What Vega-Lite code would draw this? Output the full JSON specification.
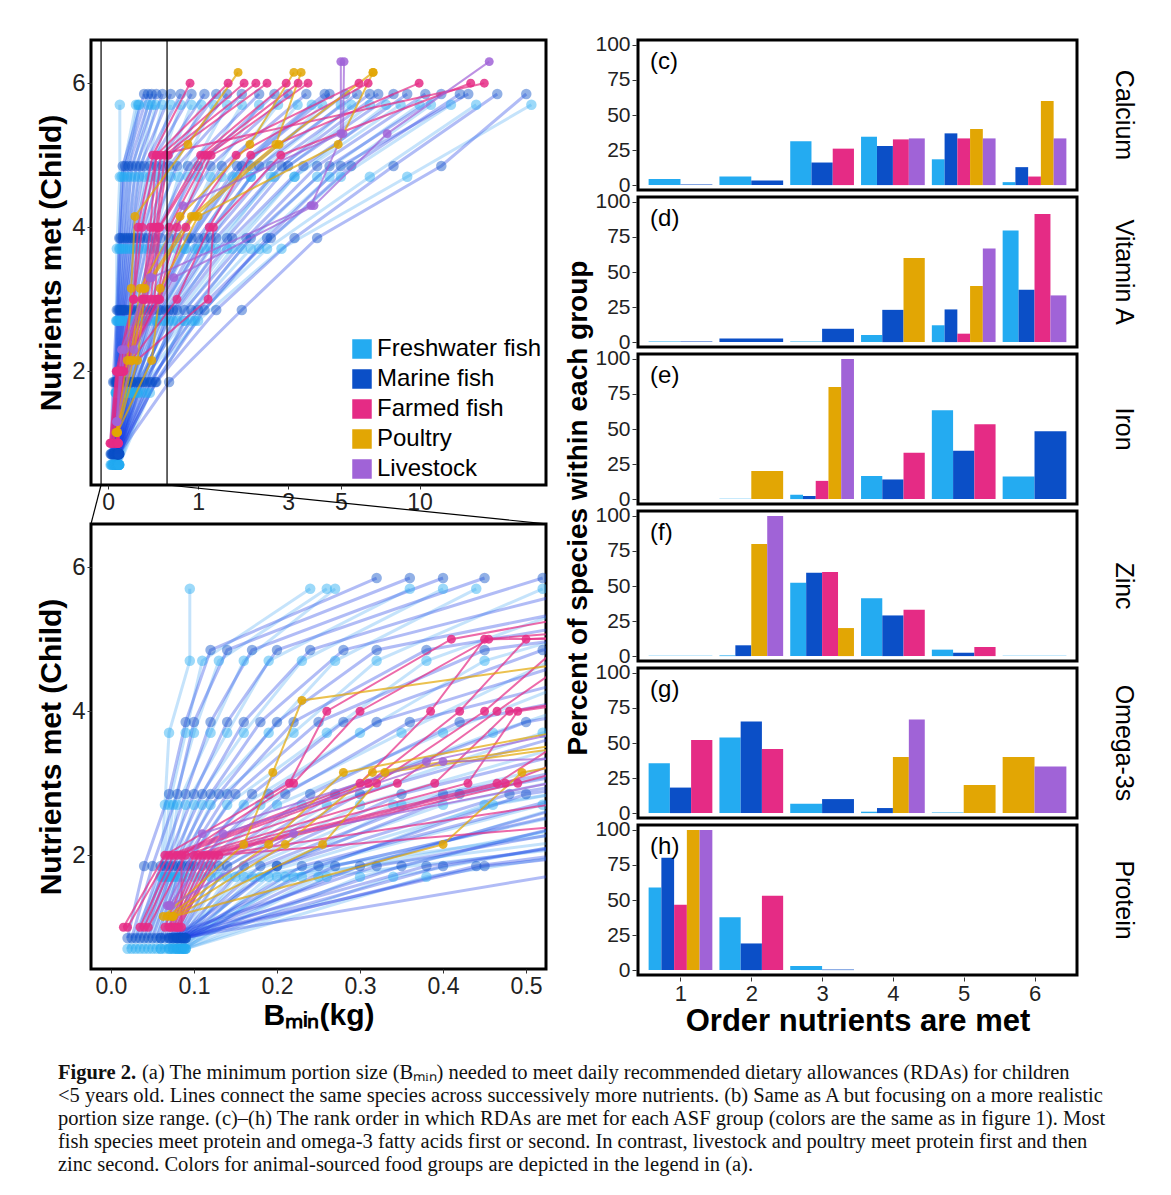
{
"$schema": "https://vega.github.io/schema/vega-lite/v6.json",
"background": "white",
"padding": {"left": 35, "top": 33, "right": 5, "bottom": 5},
"config": {
  "font": "Liberation Sans",
  "view": {"stroke": "black", "strokeWidth": 3},
  "axis": {"domain": false, "grid": false, "ticks": true, "tickColor": "#333", "tickSize": 4, "tickWidth": 1, "labelColor": "#222", "titleColor": "black", "titleFontWeight": "bold", "labelPadding": 2, "labelOverlap": false}
},
"datasets": {
"sp": [
{"s":"W1","g":"W","n":1,"b":0.02},{"s":"W1","g":"W","n":2,"b":0.06},{"s":"W1","g":"W","n":3,"b":0.065},{"s":"W1","g":"W","n":4,"b":0.07},{"s":"W1","g":"W","n":5,"b":0.095},{"s":"W1","g":"W","n":6,"b":0.095},
{"s":"W2","g":"W","n":1,"b":0.025},{"s":"W2","g":"W","n":2,"b":0.062},{"s":"W2","g":"W","n":3,"b":0.07},{"s":"W2","g":"W","n":4,"b":0.09},{"s":"W2","g":"W","n":5,"b":0.11},{"s":"W2","g":"W","n":6,"b":0.24},
{"s":"W3","g":"W","n":1,"b":0.03},{"s":"W3","g":"W","n":2,"b":0.065},{"s":"W3","g":"W","n":3,"b":0.075},{"s":"W3","g":"W","n":4,"b":0.1},{"s":"W3","g":"W","n":5,"b":0.13},{"s":"W3","g":"W","n":6,"b":0.26},
{"s":"W4","g":"W","n":1,"b":0.035},{"s":"W4","g":"W","n":2,"b":0.068},{"s":"W4","g":"W","n":3,"b":0.08},{"s":"W4","g":"W","n":4,"b":0.12},{"s":"W4","g":"W","n":5,"b":0.16},{"s":"W4","g":"W","n":6,"b":0.27},
{"s":"W5","g":"W","n":1,"b":0.04},{"s":"W5","g":"W","n":2,"b":0.07},{"s":"W5","g":"W","n":3,"b":0.09},{"s":"W5","g":"W","n":4,"b":0.14},{"s":"W5","g":"W","n":5,"b":0.19},{"s":"W5","g":"W","n":6,"b":0.36},
{"s":"W6","g":"W","n":1,"b":0.045},{"s":"W6","g":"W","n":2,"b":0.072},{"s":"W6","g":"W","n":3,"b":0.1},{"s":"W6","g":"W","n":4,"b":0.16},{"s":"W6","g":"W","n":5,"b":0.23},{"s":"W6","g":"W","n":6,"b":0.4},
{"s":"W7","g":"W","n":1,"b":0.05},{"s":"W7","g":"W","n":2,"b":0.075},{"s":"W7","g":"W","n":3,"b":0.11},{"s":"W7","g":"W","n":4,"b":0.19},{"s":"W7","g":"W","n":5,"b":0.27},{"s":"W7","g":"W","n":6,"b":0.44},
{"s":"W8","g":"W","n":1,"b":0.055},{"s":"W8","g":"W","n":2,"b":0.078},{"s":"W8","g":"W","n":3,"b":0.12},{"s":"W8","g":"W","n":4,"b":0.22},{"s":"W8","g":"W","n":5,"b":0.32},{"s":"W8","g":"W","n":6,"b":0.52},
{"s":"W9","g":"W","n":1,"b":0.06},{"s":"W9","g":"W","n":2,"b":0.08},{"s":"W9","g":"W","n":3,"b":0.14},{"s":"W9","g":"W","n":4,"b":0.26},{"s":"W9","g":"W","n":5,"b":0.38},{"s":"W9","g":"W","n":6,"b":0.62},
{"s":"W10","g":"W","n":1,"b":0.065},{"s":"W10","g":"W","n":2,"b":0.085},{"s":"W10","g":"W","n":3,"b":0.16},{"s":"W10","g":"W","n":4,"b":0.3},{"s":"W10","g":"W","n":5,"b":0.45},{"s":"W10","g":"W","n":6,"b":0.75},
{"s":"W11","g":"W","n":1,"b":0.07},{"s":"W11","g":"W","n":2,"b":0.09},{"s":"W11","g":"W","n":3,"b":0.18},{"s":"W11","g":"W","n":4,"b":0.35},{"s":"W11","g":"W","n":5,"b":0.53},{"s":"W11","g":"W","n":6,"b":0.9},
{"s":"W12","g":"W","n":1,"b":0.072},{"s":"W12","g":"W","n":2,"b":0.1},{"s":"W12","g":"W","n":3,"b":0.2},{"s":"W12","g":"W","n":4,"b":0.4},{"s":"W12","g":"W","n":5,"b":0.62},{"s":"W12","g":"W","n":6,"b":1.05},
{"s":"W13","g":"W","n":1,"b":0.075},{"s":"W13","g":"W","n":2,"b":0.11},{"s":"W13","g":"W","n":3,"b":0.23},{"s":"W13","g":"W","n":4,"b":0.46},{"s":"W13","g":"W","n":5,"b":0.72},{"s":"W13","g":"W","n":6,"b":1.25},
{"s":"W14","g":"W","n":1,"b":0.078},{"s":"W14","g":"W","n":2,"b":0.12},{"s":"W14","g":"W","n":3,"b":0.26},{"s":"W14","g":"W","n":4,"b":0.52},{"s":"W14","g":"W","n":5,"b":0.85},{"s":"W14","g":"W","n":6,"b":1.5},
{"s":"W15","g":"W","n":1,"b":0.08},{"s":"W15","g":"W","n":2,"b":0.13},{"s":"W15","g":"W","n":3,"b":0.3},{"s":"W15","g":"W","n":4,"b":0.6},{"s":"W15","g":"W","n":5,"b":1.0},{"s":"W15","g":"W","n":6,"b":1.8},
{"s":"W16","g":"W","n":1,"b":0.082},{"s":"W16","g":"W","n":2,"b":0.14},{"s":"W16","g":"W","n":3,"b":0.34},{"s":"W16","g":"W","n":4,"b":0.7},{"s":"W16","g":"W","n":5,"b":1.2},{"s":"W16","g":"W","n":6,"b":2.2},
{"s":"W17","g":"W","n":1,"b":0.084},{"s":"W17","g":"W","n":2,"b":0.15},{"s":"W17","g":"W","n":3,"b":0.4},{"s":"W17","g":"W","n":4,"b":0.82},{"s":"W17","g":"W","n":5,"b":1.4},{"s":"W17","g":"W","n":6,"b":2.7},
{"s":"W18","g":"W","n":1,"b":0.086},{"s":"W18","g":"W","n":2,"b":0.17},{"s":"W18","g":"W","n":3,"b":0.46},{"s":"W18","g":"W","n":4,"b":0.95},{"s":"W18","g":"W","n":5,"b":1.7},{"s":"W18","g":"W","n":6,"b":3.3},
{"s":"W19","g":"W","n":1,"b":0.088},{"s":"W19","g":"W","n":2,"b":0.19},{"s":"W19","g":"W","n":3,"b":0.52},{"s":"W19","g":"W","n":4,"b":1.1},{"s":"W19","g":"W","n":5,"b":2.0},{"s":"W19","g":"W","n":6,"b":4.2},
{"s":"W20","g":"W","n":1,"b":0.09},{"s":"W20","g":"W","n":2,"b":0.21},{"s":"W20","g":"W","n":3,"b":0.6},{"s":"W20","g":"W","n":4,"b":1.3},{"s":"W20","g":"W","n":5,"b":2.5},{"s":"W20","g":"W","n":6,"b":5.5},
{"s":"W21","g":"W","n":1,"b":0.06},{"s":"W21","g":"W","n":2,"b":0.23},{"s":"W21","g":"W","n":3,"b":0.7},{"s":"W21","g":"W","n":4,"b":1.6},{"s":"W21","g":"W","n":5,"b":3.2},{"s":"W21","g":"W","n":6,"b":7.5},
{"s":"W22","g":"W","n":1,"b":0.07},{"s":"W22","g":"W","n":2,"b":0.16},{"s":"W22","g":"W","n":3,"b":0.8},{"s":"W22","g":"W","n":4,"b":2.0},{"s":"W22","g":"W","n":5,"b":4.5},{"s":"W22","g":"W","n":6,"b":11},
{"s":"W23","g":"W","n":1,"b":0.08},{"s":"W23","g":"W","n":2,"b":0.2},{"s":"W23","g":"W","n":3,"b":0.9},{"s":"W23","g":"W","n":4,"b":2.4},{"s":"W23","g":"W","n":5,"b":6.5},{"s":"W23","g":"W","n":6,"b":16},
{"s":"W24","g":"W","n":1,"b":0.085},{"s":"W24","g":"W","n":2,"b":0.25},{"s":"W24","g":"W","n":3,"b":1.0},{"s":"W24","g":"W","n":4,"b":2.8},{"s":"W24","g":"W","n":5,"b":9},{"s":"W24","g":"W","n":6,"b":25},
{"s":"W25","g":"W","n":1,"b":0.075},{"s":"W25","g":"W","n":2,"b":0.18},{"s":"W25","g":"W","n":3,"b":0.35},{"s":"W25","g":"W","n":4,"b":0.8},{"s":"W25","g":"W","n":5,"b":1.6},{"s":"W25","g":"W","n":6,"b":3.8},
{"s":"W26","g":"W","n":1,"b":0.08},{"s":"W26","g":"W","n":2,"b":0.22},{"s":"W26","g":"W","n":3,"b":0.45},{"s":"W26","g":"W","n":4,"b":1.0},{"s":"W26","g":"W","n":5,"b":2.0},{"s":"W26","g":"W","n":6,"b":5},
{"s":"W27","g":"W","n":1,"b":0.085},{"s":"W27","g":"W","n":2,"b":0.26},{"s":"W27","g":"W","n":3,"b":0.55},{"s":"W27","g":"W","n":4,"b":1.2},{"s":"W27","g":"W","n":5,"b":2.6},{"s":"W27","g":"W","n":6,"b":6.5},
{"s":"W28","g":"W","n":1,"b":0.088},{"s":"W28","g":"W","n":2,"b":0.3},{"s":"W28","g":"W","n":3,"b":0.65},{"s":"W28","g":"W","n":4,"b":1.5},{"s":"W28","g":"W","n":5,"b":3.2},{"s":"W28","g":"W","n":6,"b":8.5},
{"s":"W29","g":"W","n":1,"b":0.09},{"s":"W29","g":"W","n":2,"b":0.34},{"s":"W29","g":"W","n":3,"b":0.8},{"s":"W29","g":"W","n":4,"b":1.8},{"s":"W29","g":"W","n":5,"b":4.0},{"s":"W29","g":"W","n":6,"b":10},
{"s":"W30","g":"W","n":1,"b":0.09},{"s":"W30","g":"W","n":2,"b":0.38},{"s":"W30","g":"W","n":3,"b":0.95},{"s":"W30","g":"W","n":4,"b":2.2},{"s":"W30","g":"W","n":5,"b":5.0},{"s":"W30","g":"W","n":6,"b":13},
{"s":"M1","g":"M","n":1,"b":0.02},{"s":"M1","g":"M","n":2,"b":0.04},{"s":"M1","g":"M","n":3,"b":0.07},{"s":"M1","g":"M","n":4,"b":0.09},{"s":"M1","g":"M","n":5,"b":0.12},{"s":"M1","g":"M","n":6,"b":0.32},
{"s":"M2","g":"M","n":1,"b":0.025},{"s":"M2","g":"M","n":2,"b":0.05},{"s":"M2","g":"M","n":3,"b":0.08},{"s":"M2","g":"M","n":4,"b":0.1},{"s":"M2","g":"M","n":5,"b":0.14},{"s":"M2","g":"M","n":6,"b":0.36},
{"s":"M3","g":"M","n":1,"b":0.03},{"s":"M3","g":"M","n":2,"b":0.06},{"s":"M3","g":"M","n":3,"b":0.09},{"s":"M3","g":"M","n":4,"b":0.12},{"s":"M3","g":"M","n":5,"b":0.17},{"s":"M3","g":"M","n":6,"b":0.4},
{"s":"M4","g":"M","n":1,"b":0.035},{"s":"M4","g":"M","n":2,"b":0.065},{"s":"M4","g":"M","n":3,"b":0.1},{"s":"M4","g":"M","n":4,"b":0.14},{"s":"M4","g":"M","n":5,"b":0.2},{"s":"M4","g":"M","n":6,"b":0.45},
{"s":"M5","g":"M","n":1,"b":0.04},{"s":"M5","g":"M","n":2,"b":0.07},{"s":"M5","g":"M","n":3,"b":0.11},{"s":"M5","g":"M","n":4,"b":0.16},{"s":"M5","g":"M","n":5,"b":0.24},{"s":"M5","g":"M","n":6,"b":0.52},
{"s":"M6","g":"M","n":1,"b":0.045},{"s":"M6","g":"M","n":2,"b":0.075},{"s":"M6","g":"M","n":3,"b":0.12},{"s":"M6","g":"M","n":4,"b":0.18},{"s":"M6","g":"M","n":5,"b":0.28},{"s":"M6","g":"M","n":6,"b":0.62},
{"s":"M7","g":"M","n":1,"b":0.05},{"s":"M7","g":"M","n":2,"b":0.08},{"s":"M7","g":"M","n":3,"b":0.13},{"s":"M7","g":"M","n":4,"b":0.2},{"s":"M7","g":"M","n":5,"b":0.32},{"s":"M7","g":"M","n":6,"b":0.75},
{"s":"M8","g":"M","n":1,"b":0.055},{"s":"M8","g":"M","n":2,"b":0.085},{"s":"M8","g":"M","n":3,"b":0.14},{"s":"M8","g":"M","n":4,"b":0.22},{"s":"M8","g":"M","n":5,"b":0.38},{"s":"M8","g":"M","n":6,"b":0.9},
{"s":"M9","g":"M","n":1,"b":0.06},{"s":"M9","g":"M","n":2,"b":0.09},{"s":"M9","g":"M","n":3,"b":0.15},{"s":"M9","g":"M","n":4,"b":0.25},{"s":"M9","g":"M","n":5,"b":0.45},{"s":"M9","g":"M","n":6,"b":1.1},
{"s":"M10","g":"M","n":1,"b":0.065},{"s":"M10","g":"M","n":2,"b":0.095},{"s":"M10","g":"M","n":3,"b":0.17},{"s":"M10","g":"M","n":4,"b":0.28},{"s":"M10","g":"M","n":5,"b":0.52},{"s":"M10","g":"M","n":6,"b":1.3},
{"s":"M11","g":"M","n":1,"b":0.07},{"s":"M11","g":"M","n":2,"b":0.1},{"s":"M11","g":"M","n":3,"b":0.19},{"s":"M11","g":"M","n":4,"b":0.32},{"s":"M11","g":"M","n":5,"b":0.6},{"s":"M11","g":"M","n":6,"b":1.5},
{"s":"M12","g":"M","n":1,"b":0.072},{"s":"M12","g":"M","n":2,"b":0.11},{"s":"M12","g":"M","n":3,"b":0.21},{"s":"M12","g":"M","n":4,"b":0.36},{"s":"M12","g":"M","n":5,"b":0.7},{"s":"M12","g":"M","n":6,"b":1.8},
{"s":"M13","g":"M","n":1,"b":0.075},{"s":"M13","g":"M","n":2,"b":0.12},{"s":"M13","g":"M","n":3,"b":0.24},{"s":"M13","g":"M","n":4,"b":0.42},{"s":"M13","g":"M","n":5,"b":0.85},{"s":"M13","g":"M","n":6,"b":2.2},
{"s":"M14","g":"M","n":1,"b":0.078},{"s":"M14","g":"M","n":2,"b":0.13},{"s":"M14","g":"M","n":3,"b":0.27},{"s":"M14","g":"M","n":4,"b":0.5},{"s":"M14","g":"M","n":5,"b":1.0},{"s":"M14","g":"M","n":6,"b":2.6},
{"s":"M15","g":"M","n":1,"b":0.08},{"s":"M15","g":"M","n":2,"b":0.14},{"s":"M15","g":"M","n":3,"b":0.3},{"s":"M15","g":"M","n":4,"b":0.6},{"s":"M15","g":"M","n":5,"b":1.2},{"s":"M15","g":"M","n":6,"b":3.0},
{"s":"M16","g":"M","n":1,"b":0.082},{"s":"M16","g":"M","n":2,"b":0.16},{"s":"M16","g":"M","n":3,"b":0.35},{"s":"M16","g":"M","n":4,"b":0.7},{"s":"M16","g":"M","n":5,"b":1.4},{"s":"M16","g":"M","n":6,"b":3.6},
{"s":"M17","g":"M","n":1,"b":0.084},{"s":"M17","g":"M","n":2,"b":0.18},{"s":"M17","g":"M","n":3,"b":0.4},{"s":"M17","g":"M","n":4,"b":0.85},{"s":"M17","g":"M","n":5,"b":1.7},{"s":"M17","g":"M","n":6,"b":4.3},
{"s":"M18","g":"M","n":1,"b":0.086},{"s":"M18","g":"M","n":2,"b":0.2},{"s":"M18","g":"M","n":3,"b":0.48},{"s":"M18","g":"M","n":4,"b":1.0},{"s":"M18","g":"M","n":5,"b":2.0},{"s":"M18","g":"M","n":6,"b":5.2},
{"s":"M19","g":"M","n":1,"b":0.088},{"s":"M19","g":"M","n":2,"b":0.23},{"s":"M19","g":"M","n":3,"b":0.56},{"s":"M19","g":"M","n":4,"b":1.2},{"s":"M19","g":"M","n":5,"b":2.5},{"s":"M19","g":"M","n":6,"b":6.5},
{"s":"M20","g":"M","n":1,"b":0.09},{"s":"M20","g":"M","n":2,"b":0.27},{"s":"M20","g":"M","n":3,"b":0.65},{"s":"M20","g":"M","n":4,"b":1.5},{"s":"M20","g":"M","n":5,"b":3.0},{"s":"M20","g":"M","n":6,"b":8},
{"s":"M21","g":"M","n":1,"b":0.06},{"s":"M21","g":"M","n":2,"b":0.32},{"s":"M21","g":"M","n":3,"b":0.8},{"s":"M21","g":"M","n":4,"b":1.9},{"s":"M21","g":"M","n":5,"b":4.0},{"s":"M21","g":"M","n":6,"b":10.5},
{"s":"M22","g":"M","n":1,"b":0.07},{"s":"M22","g":"M","n":2,"b":0.38},{"s":"M22","g":"M","n":3,"b":1.0},{"s":"M22","g":"M","n":4,"b":2.5},{"s":"M22","g":"M","n":5,"b":5.5},{"s":"M22","g":"M","n":6,"b":14},
{"s":"M23","g":"M","n":1,"b":0.08},{"s":"M23","g":"M","n":2,"b":0.45},{"s":"M23","g":"M","n":3,"b":1.3},{"s":"M23","g":"M","n":4,"b":3.2},{"s":"M23","g":"M","n":5,"b":8},{"s":"M23","g":"M","n":6,"b":19},
{"s":"M24","g":"M","n":1,"b":0.085},{"s":"M24","g":"M","n":2,"b":0.6},{"s":"M24","g":"M","n":3,"b":1.8},{"s":"M24","g":"M","n":4,"b":4.0},{"s":"M24","g":"M","n":5,"b":12},{"s":"M24","g":"M","n":6,"b":24},
{"s":"M25","g":"M","n":1,"b":0.075},{"s":"M25","g":"M","n":2,"b":0.2},{"s":"M25","g":"M","n":3,"b":0.42},{"s":"M25","g":"M","n":4,"b":0.9},{"s":"M25","g":"M","n":5,"b":1.8},{"s":"M25","g":"M","n":6,"b":4.5},
{"s":"M26","g":"M","n":1,"b":0.08},{"s":"M26","g":"M","n":2,"b":0.25},{"s":"M26","g":"M","n":3,"b":0.5},{"s":"M26","g":"M","n":4,"b":1.1},{"s":"M26","g":"M","n":5,"b":2.2},{"s":"M26","g":"M","n":6,"b":5.8},
{"s":"M27","g":"M","n":1,"b":0.085},{"s":"M27","g":"M","n":2,"b":0.3},{"s":"M27","g":"M","n":3,"b":0.6},{"s":"M27","g":"M","n":4,"b":1.3},{"s":"M27","g":"M","n":5,"b":2.8},{"s":"M27","g":"M","n":6,"b":7},
{"s":"M28","g":"M","n":1,"b":0.088},{"s":"M28","g":"M","n":2,"b":0.35},{"s":"M28","g":"M","n":3,"b":0.7},{"s":"M28","g":"M","n":4,"b":1.6},{"s":"M28","g":"M","n":5,"b":3.5},{"s":"M28","g":"M","n":6,"b":9},
{"s":"M29","g":"M","n":1,"b":0.09},{"s":"M29","g":"M","n":2,"b":0.4},{"s":"M29","g":"M","n":3,"b":0.9},{"s":"M29","g":"M","n":4,"b":2.0},{"s":"M29","g":"M","n":5,"b":4.5},{"s":"M29","g":"M","n":6,"b":12},
{"s":"M30","g":"M","n":1,"b":0.09},{"s":"M30","g":"M","n":2,"b":0.44},{"s":"M30","g":"M","n":3,"b":1.1},{"s":"M30","g":"M","n":4,"b":2.4},{"s":"M30","g":"M","n":5,"b":5.0},{"s":"M30","g":"M","n":6,"b":15},
{"s":"F1","g":"F","n":1,"b":0.015},{"s":"F1","g":"F","n":2,"b":0.065},{"s":"F1","g":"F","n":3,"b":0.215},{"s":"F1","g":"F","n":4,"b":0.26},{"s":"F1","g":"F","n":5,"b":0.41},{"s":"F1","g":"F","n":6,"b":0.88},
{"s":"F2","g":"F","n":1,"b":0.02},{"s":"F2","g":"F","n":2,"b":0.07},{"s":"F2","g":"F","n":3,"b":0.3},{"s":"F2","g":"F","n":4,"b":0.385},{"s":"F2","g":"F","n":5,"b":0.45},{"s":"F2","g":"F","n":6,"b":1.52},
{"s":"F3","g":"F","n":1,"b":0.035},{"s":"F3","g":"F","n":2,"b":0.075},{"s":"F3","g":"F","n":3,"b":0.31},{"s":"F3","g":"F","n":4,"b":0.42},{"s":"F3","g":"F","n":5,"b":0.5},{"s":"F3","g":"F","n":6,"b":1.85},
{"s":"F4","g":"F","n":1,"b":0.04},{"s":"F4","g":"F","n":2,"b":0.08},{"s":"F4","g":"F","n":3,"b":0.32},{"s":"F4","g":"F","n":4,"b":0.45},{"s":"F4","g":"F","n":5,"b":0.55},{"s":"F4","g":"F","n":6,"b":2.12},
{"s":"F5","g":"F","n":1,"b":0.045},{"s":"F5","g":"F","n":2,"b":0.09},{"s":"F5","g":"F","n":3,"b":0.345},{"s":"F5","g":"F","n":4,"b":0.465},{"s":"F5","g":"F","n":5,"b":0.59},{"s":"F5","g":"F","n":6,"b":2.4},
{"s":"F6","g":"F","n":1,"b":0.065},{"s":"F6","g":"F","n":2,"b":0.1},{"s":"F6","g":"F","n":3,"b":0.39},{"s":"F6","g":"F","n":4,"b":0.48},{"s":"F6","g":"F","n":5,"b":1.04},{"s":"F6","g":"F","n":6,"b":2.94},
{"s":"F7","g":"F","n":1,"b":0.07},{"s":"F7","g":"F","n":2,"b":0.105},{"s":"F7","g":"F","n":3,"b":0.43},{"s":"F7","g":"F","n":4,"b":0.49},{"s":"F7","g":"F","n":5,"b":1.1},{"s":"F7","g":"F","n":6,"b":3.32},
{"s":"F8","g":"F","n":1,"b":0.072},{"s":"F8","g":"F","n":2,"b":0.11},{"s":"F8","g":"F","n":3,"b":0.465},{"s":"F8","g":"F","n":4,"b":0.6},{"s":"F8","g":"F","n":5,"b":1.15},{"s":"F8","g":"F","n":6,"b":3.66},
{"s":"F9","g":"F","n":1,"b":0.075},{"s":"F9","g":"F","n":2,"b":0.115},{"s":"F9","g":"F","n":3,"b":0.475},{"s":"F9","g":"F","n":4,"b":0.7},{"s":"F9","g":"F","n":5,"b":1.21},{"s":"F9","g":"F","n":6,"b":5.9},
{"s":"F10","g":"F","n":1,"b":0.078},{"s":"F10","g":"F","n":2,"b":0.12},{"s":"F10","g":"F","n":3,"b":0.49},{"s":"F10","g":"F","n":4,"b":0.82},{"s":"F10","g":"F","n":5,"b":1.68},{"s":"F10","g":"F","n":6,"b":6.4},
{"s":"F11","g":"F","n":1,"b":0.08},{"s":"F11","g":"F","n":2,"b":0.125},{"s":"F11","g":"F","n":3,"b":0.7},{"s":"F11","g":"F","n":4,"b":1.18},{"s":"F11","g":"F","n":5,"b":2.0},{"s":"F11","g":"F","n":6,"b":9.96},
{"s":"F12","g":"F","n":1,"b":0.082},{"s":"F12","g":"F","n":2,"b":0.13},{"s":"F12","g":"F","n":3,"b":1.16},{"s":"F12","g":"F","n":4,"b":1.25},{"s":"F12","g":"F","n":5,"b":2.78},{"s":"F12","g":"F","n":6,"b":15.3},
{"s":"F13","g":"F","n":1,"b":0.085},{"s":"F13","g":"F","n":2,"b":0.085},{"s":"F13","g":"F","n":3,"b":0.22},{"s":"F13","g":"F","n":4,"b":0.3},{"s":"F13","g":"F","n":5,"b":0.455},{"s":"F13","g":"F","n":6,"b":17.1},
{"s":"P1","g":"P","n":1,"b":0.063},{"s":"P1","g":"P","n":2,"b":0.16},{"s":"P1","g":"P","n":3,"b":0.195},{"s":"P1","g":"P","n":4,"b":0.23},{"s":"P1","g":"P","n":5,"b":0.85},{"s":"P1","g":"P","n":6,"b":1.72},
{"s":"P2","g":"P","n":1,"b":0.068},{"s":"P2","g":"P","n":2,"b":0.19},{"s":"P2","g":"P","n":3,"b":0.28},{"s":"P2","g":"P","n":4,"b":0.74},{"s":"P2","g":"P","n":5,"b":1.98},{"s":"P2","g":"P","n":6,"b":3.18},
{"s":"P3","g":"P","n":1,"b":0.072},{"s":"P3","g":"P","n":2,"b":0.21},{"s":"P3","g":"P","n":3,"b":0.315},{"s":"P3","g":"P","n":4,"b":0.9},{"s":"P3","g":"P","n":5,"b":2.64},{"s":"P3","g":"P","n":6,"b":3.42},
{"s":"P4","g":"P","n":1,"b":0.075},{"s":"P4","g":"P","n":2,"b":0.255},{"s":"P4","g":"P","n":3,"b":0.33},{"s":"P4","g":"P","n":4,"b":0.95},{"s":"P4","g":"P","n":5,"b":2.73},{"s":"P4","g":"P","n":6,"b":6.69},
{"s":"P5","g":"P","n":1,"b":0.075},{"s":"P5","g":"P","n":2,"b":0.4},{"s":"P5","g":"P","n":3,"b":0.495},{"s":"P5","g":"P","n":4,"b":1.0},{"s":"P5","g":"P","n":5,"b":4.88},{"s":"P5","g":"P","n":6,"b":6.69},
{"s":"L1","g":"L","n":1,"b":0.068},{"s":"L1","g":"L","n":2,"b":0.11},{"s":"L1","g":"L","n":3,"b":0.38},{"s":"L1","g":"L","n":4,"b":0.78},{"s":"L1","g":"L","n":5,"b":5.0},{"s":"L1","g":"L","n":6,"b":5.0},
{"s":"L2","g":"L","n":1,"b":0.07},{"s":"L2","g":"L","n":2,"b":0.135},{"s":"L2","g":"L","n":3,"b":0.4},{"s":"L2","g":"L","n":4,"b":3.77},{"s":"L2","g":"L","n":5,"b":5.1},{"s":"L2","g":"L","n":6,"b":5.15},
{"s":"L3","g":"L","n":1,"b":0.072},{"s":"L3","g":"L","n":2,"b":0.22},{"s":"L3","g":"L","n":3,"b":0.66},{"s":"L3","g":"L","n":4,"b":3.88},{"s":"L3","g":"L","n":5,"b":7.57},{"s":"L3","g":"L","n":6,"b":17.8}
],
"bars": [
{"nut":"Calcium","o":1,"g":"W","p":4.3},{"nut":"Calcium","o":1,"g":"M","p":0.5},
{"nut":"Calcium","o":2,"g":"W","p":6.1},{"nut":"Calcium","o":2,"g":"M","p":3.3},
{"nut":"Calcium","o":3,"g":"W","p":31.2},{"nut":"Calcium","o":3,"g":"M","p":16.1},{"nut":"Calcium","o":3,"g":"F","p":26},
{"nut":"Calcium","o":4,"g":"W","p":34.5},{"nut":"Calcium","o":4,"g":"M","p":27.9},{"nut":"Calcium","o":4,"g":"F","p":32.6},{"nut":"Calcium","o":4,"g":"L","p":33.3},
{"nut":"Calcium","o":5,"g":"W","p":18.4},{"nut":"Calcium","o":5,"g":"M","p":36.9},{"nut":"Calcium","o":5,"g":"F","p":33.3},{"nut":"Calcium","o":5,"g":"P","p":40},{"nut":"Calcium","o":5,"g":"L","p":33.3},
{"nut":"Calcium","o":6,"g":"W","p":2.1},{"nut":"Calcium","o":6,"g":"M","p":12.8},{"nut":"Calcium","o":6,"g":"F","p":6.1},{"nut":"Calcium","o":6,"g":"P","p":60},{"nut":"Calcium","o":6,"g":"L","p":33.3},
{"nut":"Vitamin A","o":1,"g":"W","p":0.5},{"nut":"Vitamin A","o":1,"g":"M","p":0.5},
{"nut":"Vitamin A","o":2,"g":"M","p":2.6},
{"nut":"Vitamin A","o":3,"g":"W","p":0.5},{"nut":"Vitamin A","o":3,"g":"M","p":9.5},
{"nut":"Vitamin A","o":4,"g":"W","p":5},{"nut":"Vitamin A","o":4,"g":"M","p":23},{"nut":"Vitamin A","o":4,"g":"P","p":60},
{"nut":"Vitamin A","o":5,"g":"W","p":12},{"nut":"Vitamin A","o":5,"g":"M","p":23.3},{"nut":"Vitamin A","o":5,"g":"F","p":6},{"nut":"Vitamin A","o":5,"g":"P","p":40},{"nut":"Vitamin A","o":5,"g":"L","p":66.7},
{"nut":"Vitamin A","o":6,"g":"W","p":79.6},{"nut":"Vitamin A","o":6,"g":"M","p":37.3},{"nut":"Vitamin A","o":6,"g":"F","p":91.4},{"nut":"Vitamin A","o":6,"g":"L","p":33.3},
{"nut":"Iron","o":2,"g":"W","p":0.3},{"nut":"Iron","o":2,"g":"P","p":20},
{"nut":"Iron","o":3,"g":"W","p":3.1},{"nut":"Iron","o":3,"g":"M","p":2.2},{"nut":"Iron","o":3,"g":"F","p":13},{"nut":"Iron","o":3,"g":"P","p":80},{"nut":"Iron","o":3,"g":"L","p":100},
{"nut":"Iron","o":4,"g":"W","p":16.5},{"nut":"Iron","o":4,"g":"M","p":14},{"nut":"Iron","o":4,"g":"F","p":33},
{"nut":"Iron","o":5,"g":"W","p":63.4},{"nut":"Iron","o":5,"g":"M","p":34.4},{"nut":"Iron","o":5,"g":"F","p":53.3},
{"nut":"Iron","o":6,"g":"W","p":16.2},{"nut":"Iron","o":6,"g":"M","p":48.4},
{"nut":"Zinc","o":1,"g":"W","p":0.3},
{"nut":"Zinc","o":2,"g":"W","p":0.5},{"nut":"Zinc","o":2,"g":"M","p":7.7},{"nut":"Zinc","o":2,"g":"P","p":80},{"nut":"Zinc","o":2,"g":"L","p":100},
{"nut":"Zinc","o":3,"g":"W","p":52.4},{"nut":"Zinc","o":3,"g":"M","p":59.4},{"nut":"Zinc","o":3,"g":"F","p":60},{"nut":"Zinc","o":3,"g":"P","p":20},
{"nut":"Zinc","o":4,"g":"W","p":41.3},{"nut":"Zinc","o":4,"g":"M","p":29},{"nut":"Zinc","o":4,"g":"F","p":33},
{"nut":"Zinc","o":5,"g":"W","p":4.6},{"nut":"Zinc","o":5,"g":"M","p":2.4},{"nut":"Zinc","o":5,"g":"F","p":6.5},
{"nut":"Zinc","o":6,"g":"W","p":0.3},
{"nut":"Omega-3s","o":1,"g":"W","p":35.6},{"nut":"Omega-3s","o":1,"g":"M","p":18.2},{"nut":"Omega-3s","o":1,"g":"F","p":52.2},
{"nut":"Omega-3s","o":2,"g":"W","p":54},{"nut":"Omega-3s","o":2,"g":"M","p":65.3},{"nut":"Omega-3s","o":2,"g":"F","p":45.7},
{"nut":"Omega-3s","o":3,"g":"W","p":6.7},{"nut":"Omega-3s","o":3,"g":"M","p":10},
{"nut":"Omega-3s","o":4,"g":"W","p":1},{"nut":"Omega-3s","o":4,"g":"M","p":3.6},{"nut":"Omega-3s","o":4,"g":"P","p":40},{"nut":"Omega-3s","o":4,"g":"L","p":66.7},
{"nut":"Omega-3s","o":5,"g":"W","p":0.5},{"nut":"Omega-3s","o":5,"g":"P","p":20},
{"nut":"Omega-3s","o":6,"g":"P","p":40},{"nut":"Omega-3s","o":6,"g":"L","p":33.3},
{"nut":"Protein","o":1,"g":"W","p":58.9},{"nut":"Protein","o":1,"g":"M","p":80.2},{"nut":"Protein","o":1,"g":"F","p":46.6},{"nut":"Protein","o":1,"g":"P","p":100},{"nut":"Protein","o":1,"g":"L","p":100},
{"nut":"Protein","o":2,"g":"W","p":37.7},{"nut":"Protein","o":2,"g":"M","p":19},{"nut":"Protein","o":2,"g":"F","p":53.1},
{"nut":"Protein","o":3,"g":"W","p":2.9},{"nut":"Protein","o":3,"g":"M","p":0.4},
{"nut":"Calcium","lab":"(c)"},{"nut":"Vitamin A","lab":"(d)"},{"nut":"Iron","lab":"(e)"},{"nut":"Zinc","lab":"(f)"},{"nut":"Omega-3s","lab":"(g)"},{"nut":"Protein","lab":"(h)"}
],
"cap": [
{"line":1,"seg":"head","t":"Figure 2."},
{"line":1,"seg":"first","t":"(a) The minimum portion size (Bₘᵢₙ) needed to meet daily recommended dietary allowances (RDAs) for children"},
{"line":2,"seg":"body","t":"<5 years old. Lines connect the same species across successively more nutrients. (b) Same as A but focusing on a more realistic"},
{"line":3,"seg":"body","t":"portion size range. (c)–(h) The rank order in which RDAs are met for each ASF group (colors are the same as in figure 1). Most"},
{"line":4,"seg":"body","t":"fish species meet protein and omega-3 fatty acids first or second. In contrast, livestock and poultry meet protein first and then"},
{"line":5,"seg":"body","t":"zinc second. Colors for animal-sourced food groups are depicted in the legend in (a)."}
]
},
"vconcat": [
 {
  "hconcat": [
   {
    "vconcat": [
     {
      "width": 455, "height": 445,
      "data": {"name": "sp"},
      "transform": [{"calculate": "datum.n + ({'W':-0.3,'M':-0.15,'F':0,'P':0.15,'L':0.3})[datum.g]", "as": "yy"}],
      "encoding": {
        "x": {"field": "b", "type": "quantitative", "scale": {"type": "symlog", "constant": 1, "domain": [-0.14, 28.1], "nice": false, "zero": false}, "axis": {"values": [0, 1, 3, 5, 10], "title": null, "labelFontSize": 23}},
        "y": {"field": "yy", "type": "quantitative", "scale": {"domain": [0.42, 6.6], "nice": false, "zero": false}, "axis": {"values": [2, 4, 6], "title": "Nutrients met (Child)", "labelFontSize": 24, "titleFontSize": 30, "titlePadding": 5}},
        "color": {"field": "g", "type": "nominal", "scale": {"domain": ["W", "M", "F", "P", "L"], "range": ["#24ABF1", "#0B4FC7", "#E52B85", "#E2A604", "#A063D7"]},
           "legend": {"title": null, "orient": "bottom-right", "offset": 4, "symbolType": "square", "symbolSize": 380, "symbolStrokeWidth": 0, "symbolOpacity": 1, "labelFontSize": 24, "labelColor": "black", "rowPadding": 6, "labelOffset": 3, "labelLimit": 300,
             "labelExpr": "({'W':'Freshwater fish','M':'Marine fish','F':'Farmed fish','P':'Poultry','L':'Livestock'})[datum.label]"}}
      },
      "layer": [
        {"transform": [{"filter": "datum.g=='W'"}], "mark": {"type": "line", "strokeWidth": 3, "opacity": 0.3}, "encoding": {"color": {"value": "#3FA2F2"}, "detail": {"field": "s"}, "order": {"field": "n"}}},
        {"transform": [{"filter": "datum.g=='M'"}], "mark": {"type": "line", "strokeWidth": 3, "opacity": 0.35}, "encoding": {"color": {"value": "#1F3FE6"}, "detail": {"field": "s"}, "order": {"field": "n"}}},
        {"transform": [{"filter": "datum.g=='W'||datum.g=='M'"}], "mark": {"type": "circle", "size": 110, "opacity": 0.45}},
        {"transform": [{"filter": "datum.g!='W'&&datum.g!='M'"}], "mark": {"type": "line", "strokeWidth": 2, "opacity": 0.7}, "encoding": {"detail": {"field": "s"}, "order": {"field": "n"}}},
        {"transform": [{"filter": "datum.g!='W'&&datum.g!='M'"}], "mark": {"type": "circle", "size": 80, "opacity": 0.85}},
        {"data": {"values": [{"x": -0.055, "x2": -0.055, "y": 0.42, "y2": 6.6}, {"x": 0.575, "x2": 0.575, "y": 0.42, "y2": 6.6}, {"x": -0.055, "x2": -0.14, "y": 0.42, "y2": -0.12}, {"x": 0.575, "x2": 28.1, "y": 0.42, "y2": -0.12}]},
         "mark": {"type": "rule", "clip": false, "strokeWidth": 1.2},
         "encoding": {"x": {"field": "x", "type": "quantitative", "scale": {"type": "symlog", "constant": 1, "domain": [-0.14, 28.1], "nice": false, "zero": false}, "axis": {"values": [0, 1, 3, 5, 10], "title": null, "labelFontSize": 23}}, "x2": {"field": "x2"}, "y": {"field": "y", "type": "quantitative", "scale": {"domain": [0.42, 6.6], "nice": false, "zero": false}, "axis": {"values": [2, 4, 6], "title": "Nutrients met (Child)", "labelFontSize": 24, "titleFontSize": 30, "titlePadding": 5}}, "y2": {"field": "y2"}, "color": {"value": "black"}}},
        {"data": {"values": [{"t": "(a)"}]}, "mark": {"type": "text", "align": "left", "baseline": "middle", "fontSize": 24},
         "encoding": {"text": {"field": "t"}, "x": {"datum": -0.039}, "y": {"datum": 6.39}, "color": {"value": "black"}}}
      ]
     },
     {
      "width": 455, "height": 445,
      "data": {"name": "sp"},
      "transform": [{"calculate": "datum.n + ({'W':-0.3,'M':-0.15,'F':0,'P':0.15,'L':0.3})[datum.g]", "as": "yy"}],
      "encoding": {
        "x": {"field": "b", "type": "quantitative", "scale": {"domain": [-0.024, 0.524], "nice": false, "zero": false}, "axis": {"values": [0, 0.1, 0.2, 0.3, 0.4, 0.5], "format": ".1f", "title": "Bₘᵢₙ(kg)", "labelFontSize": 23, "titleFontSize": 30, "titlePadding": 2}},
        "y": {"field": "yy", "type": "quantitative", "scale": {"domain": [0.42, 6.6], "nice": false, "zero": false}, "axis": {"values": [2, 4, 6], "title": "Nutrients met (Child)", "labelFontSize": 24, "titleFontSize": 30, "titlePadding": 5}},
        "color": {"field": "g", "type": "nominal", "scale": {"domain": ["W", "M", "F", "P", "L"], "range": ["#24ABF1", "#0B4FC7", "#E52B85", "#E2A604", "#A063D7"]}, "legend": null}
      },
      "layer": [
        {"transform": [{"filter": "datum.g=='W'"}], "mark": {"type": "line", "strokeWidth": 3, "opacity": 0.3, "clip": true}, "encoding": {"color": {"value": "#3FA2F2"}, "detail": {"field": "s"}, "order": {"field": "n"}}},
        {"transform": [{"filter": "datum.g=='M'"}], "mark": {"type": "line", "strokeWidth": 3, "opacity": 0.35, "clip": true}, "encoding": {"color": {"value": "#1F3FE6"}, "detail": {"field": "s"}, "order": {"field": "n"}}},
        {"transform": [{"filter": "datum.g=='W'||datum.g=='M'"}], "mark": {"type": "circle", "size": 110, "opacity": 0.45, "clip": true}},
        {"transform": [{"filter": "datum.g!='W'&&datum.g!='M'"}], "mark": {"type": "line", "strokeWidth": 2, "opacity": 0.7, "clip": true}, "encoding": {"detail": {"field": "s"}, "order": {"field": "n"}}},
        {"transform": [{"filter": "datum.g!='W'&&datum.g!='M'"}], "mark": {"type": "circle", "size": 80, "opacity": 0.85, "clip": true}},
        {"data": {"values": [{"t": "(b)"}]}, "mark": {"type": "text", "align": "left", "baseline": "middle", "fontSize": 24},
         "encoding": {"text": {"field": "t"}, "x": {"datum": -0.007}, "y": {"datum": 6.32}, "color": {"value": "black"}}}
      ]
     }
    ],
    "spacing": 39,
    "bounds": "flush",
    "resolve": {"scale": {"color": "independent", "x": "independent", "y": "independent"}, "legend": {"color": "independent"}}
   },
   {
    "data": {"name": "bars"},
    "facet": {"row": {"field": "nut", "type": "nominal", "sort": ["Calcium", "Vitamin A", "Iron", "Zinc", "Omega-3s", "Protein"],
       "header": {"title": "Percent of species within each group", "titleOrient": "left", "titleAngle": -90, "titleFontSize": 28, "titleFontWeight": "bold", "titleColor": "black", "titlePadding": -37,
                  "labelOrient": "right", "labelAngle": 90, "labelFontSize": 25, "labelPadding": 32, "labelColor": "black"}}},
    "spacing": 3,
    "spec": {
      "width": 439, "height": 150,
      "layer": [
        {"transform": [
           {"filter": "isValid(datum.p)"},
           {"calculate": "indexof(['W','M','F','P','L'], datum.g)", "as": "gi"},
           {"window": [{"op": "row_number", "as": "k"}, {"op": "count", "as": "c"}], "groupby": ["nut", "o"], "sort": [{"field": "gi"}], "frame": [null, null]},
           {"calculate": "datum.o - 0.45 + 0.9 * (datum.k - 1) / datum.c", "as": "x0"},
           {"calculate": "datum.x0 + 0.9 / datum.c", "as": "x1"}
         ],
         "mark": {"type": "rect"},
         "encoding": {
           "x": {"field": "x0", "type": "quantitative", "scale": {"domain": [0.4, 6.6], "nice": false, "zero": false}, "axis": {"values": [1, 2, 3, 4, 5, 6], "format": "d", "title": "Order nutrients are met", "labelFontSize": 22, "titleFontSize": 31, "titlePadding": 2}},
           "x2": {"field": "x1"},
           "y": {"field": "p", "type": "quantitative", "scale": {"domain": [-3.5, 103.5], "nice": false, "zero": false}, "axis": {"values": [0, 25, 50, 75, 100], "title": null, "labelFontSize": 21, "labelOverlap": false}},
           "y2": {"datum": 0},
           "color": {"field": "g", "type": "nominal", "scale": {"domain": ["W", "M", "F", "P", "L"], "range": ["#24ABF1", "#0B4FC7", "#E52B85", "#E2A604", "#A063D7"]}, "legend": null}
         }},
        {"transform": [{"filter": "isValid(datum.lab)"}],
         "mark": {"type": "text", "align": "left", "baseline": "middle", "fontSize": 24},
         "encoding": {"text": {"field": "lab"}, "x": {"datum": 0.57, "type": "quantitative", "axis": {"values": [1, 2, 3, 4, 5, 6], "format": "d", "title": "Order nutrients are met", "labelFontSize": 22, "titleFontSize": 31, "titlePadding": 2}},
           "y": {"datum": 88, "type": "quantitative", "axis": {"values": [0, 25, 50, 75, 100], "title": null, "labelFontSize": 21, "labelOverlap": false}}, "color": {"value": "black"}}}
      ]
    }
   }
  ],
  "spacing": 15,
  "resolve": {"scale": {"color": "independent", "x": "independent", "y": "independent"}, "legend": {"color": "independent"}}
 },
 {
  "width": 1110, "height": 116,
  "view": {"stroke": null},
  "data": {"name": "cap"},
  "encoding": {
    "x": {"datum": 0, "type": "quantitative", "scale": {"domain": [0, 1]}, "axis": null},
    "y": {"field": "line", "type": "quantitative", "scale": {"domain": [0.5, 5.5], "reverse": true}, "axis": null},
    "text": {"field": "t"}
  },
  "layer": [
    {"transform": [{"filter": "datum.seg=='head'"}], "mark": {"type": "text", "align": "left", "baseline": "middle", "font": "Liberation Serif", "fontSize": 20.5, "fontWeight": "bold", "color": "#111", "dx": -33}},
    {"transform": [{"filter": "datum.seg=='first'"}], "mark": {"type": "text", "align": "left", "baseline": "middle", "font": "Liberation Serif", "fontSize": 20.5, "color": "#111", "dx": 51}},
    {"transform": [{"filter": "datum.seg=='body'"}], "mark": {"type": "text", "align": "left", "baseline": "middle", "font": "Liberation Serif", "fontSize": 20.5, "color": "#111", "dx": -33}}
  ]
 }
],
"spacing": 25,
"resolve": {"scale": {"color": "independent", "x": "independent", "y": "independent"}, "legend": {"color": "independent"}}
}
